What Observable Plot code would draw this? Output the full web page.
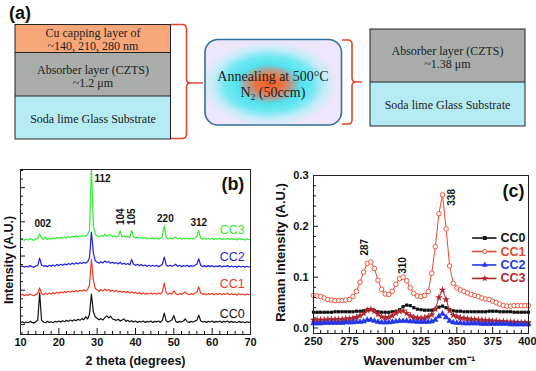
<!DOCTYPE html>
<html>
<head>
<meta charset="utf-8">
<script src="https://cdn.jsdelivr.net/npm/d3@7"></script>
<script src="https://cdn.jsdelivr.net/npm/@observablehq/plot@0.6"></script>
<style>
  html, body { margin: 0; padding: 0; background: #fff; }
  body { width: 536px; height: 371px; position: relative; overflow: hidden; font-family: "Liberation Sans", Arial, sans-serif; }
  #panelA { position: absolute; left: 0; top: 0; }
  #panelB { position: absolute; left: 0; top: 150px; }
  #panelC { position: absolute; left: 270px; top: 150px; }
  .serif { font-family: "Liberation Serif", "Times New Roman", serif; fill: #222; }
</style>
</head>
<body>
<svg id="panelA" width="536" height="150" viewBox="0 0 536 150">
  <defs>
    <radialGradient id="anneal" cx="0.47" cy="0.52" r="0.5">
      <stop offset="0" stop-color="#f2602a"/>
      <stop offset="0.2" stop-color="#ee7446"/>
      <stop offset="0.34" stop-color="#a7a59e"/>
      <stop offset="0.46" stop-color="#52e2ec"/>
      <stop offset="0.64" stop-color="#6fe8f3"/>
      <stop offset="0.82" stop-color="#c4ecf9"/>
      <stop offset="1" stop-color="#eee6fa"/>
    </radialGradient>
  </defs>
  <text x="9" y="19" font-size="18" font-weight="bold" fill="#111">(a)</text>
  <!-- left stack -->
  <rect x="15" y="24.5" width="155.5" height="28" fill="#f7a679"/>
  <rect x="15" y="52.5" width="155.5" height="43.5" fill="#a8adaa"/>
  <rect x="15" y="96" width="155.5" height="43" fill="#b5ebf2"/>
  <rect x="15" y="24.5" width="155.5" height="114.5" fill="none" stroke="#222" stroke-width="1"/>
  <line x1="15" x2="170.5" y1="52.5" y2="52.5" stroke="#222"/>
  <line x1="15" x2="170.5" y1="96" y2="96" stroke="#222"/>
  <g class="serif" font-size="12" text-anchor="middle">
    <text x="93" y="36.5">Cu capping layer of<tspan x="93" dy="13.5">~140, 210, 280 nm</tspan></text>
    <text x="93" y="73.5">Absorber layer (CZTS)<tspan x="93" dy="13.5">~1.2 μm</tspan></text>
    <text x="93" y="122.5">Soda lime Glass Substrate</text>
  </g>
  <path d="M171,24.5 H182 Q186.5,24.5 186.5,29 V79 Q186.5,83 190.5,83 H203 M190.5,83 Q186.5,83 186.5,87 V134 Q186.5,138.5 182,138.5 H171" fill="none" stroke="#e4472e" stroke-width="1.6"/>
  <!-- annealing box -->
  <rect x="205" y="39.5" width="136.5" height="85.5" rx="13" ry="13" fill="url(#anneal)" stroke="#3270a0" stroke-width="1.6"/>
  <g class="serif" font-size="14" text-anchor="middle">
    <text x="273" y="81">Annealing at 500°C<tspan x="273" dy="16">N</tspan><tspan font-size="9" dy="3">2</tspan><tspan dy="-3"> (50ccm)</tspan></text>
  </g>
  <path d="M342,40 H348 Q352,40 352,44 V78 Q352,82 356,82 H362 M356,82 Q352,82 352,86 V120 Q352,124 348,124 H342" fill="none" stroke="#e4472e" stroke-width="1.6"/>
  <!-- right stack -->
  <rect x="370" y="29" width="155" height="53" fill="#a8adaa"/>
  <rect x="370" y="82" width="155" height="44" fill="#b5ebf2"/>
  <rect x="370" y="29" width="155" height="97" fill="none" stroke="#222"/>
  <line x1="370" x2="525" y1="82" y2="82" stroke="#222"/>
  <g class="serif" font-size="12" text-anchor="middle">
    <text x="447.5" y="54.5">Absorber layer (CZTS)<tspan x="447.5" dy="13.5">~1.38 μm</tspan></text>
    <text x="447.5" y="109">Soda lime Glass Substrate</text>
  </g>
</svg>
<div id="panelB"></div>
<div id="panelC"></div>
<script>
// ---------- Panel (b): XRD ----------
const twoTheta = [
  10,10.5,11,11.5,12,12.5,13,13.5,14,14.5,
  15,15.5,16,16.5,17,17.5,18,18.5,19,19.5,
  20,20.5,21,21.5,22,22.5,23,23.5,24,24.5,
  25,25.5,26,26.5,27,27.5,28,28.5,29,29.5,
  30,30.5,31,31.5,32,32.5,33,33.5,34,34.5,
  35,35.5,36,36.5,37,37.5,38,38.5,39,39.5,
  40,40.5,41,41.5,42,42.5,43,43.5,44,44.5,
  45,45.5,46,46.5,47,47.5,48,48.5,49,49.5,
  50,50.5,51,51.5,52,52.5,53,53.5,54,54.5,
  55,55.5,56,56.5,57,57.5,58,58.5,59,59.5,
  60,60.5,61,61.5,62,62.5,63,63.5,64,64.5,
  65,65.5,66,66.5,67,67.5,68,68.5,69,69.5,70
];
const xrdCC0 = [
  1.05,1.08,1.04,1.07,1.05,1.09,1.06,1.04,1.08,1.12,
  1.92,1.12,1.07,1.05,1.09,1.06,1.08,1.05,1.09,1.07,
  1.10,1.07,1.11,1.08,1.12,1.09,1.13,1.10,1.14,1.11,
  1.15,1.12,1.17,1.14,1.22,1.16,1.30,1.89,1.38,1.22,
  1.18,1.14,1.17,1.13,1.20,1.25,1.19,1.24,1.16,1.14,
  1.12,1.15,1.10,1.13,1.16,1.09,1.12,1.08,1.11,1.07,
  1.10,1.06,1.09,1.07,1.10,1.06,1.09,1.07,1.10,1.06,
  1.09,1.07,1.10,1.06,1.12,1.33,1.11,1.07,1.10,1.13,
  1.26,1.09,1.06,1.09,1.07,1.10,1.16,1.08,1.06,1.09,
  1.07,1.10,1.12,1.27,1.11,1.07,1.09,1.06,1.09,1.07,
  1.10,1.06,1.09,1.07,1.10,1.06,1.09,1.07,1.10,1.06,
  1.09,1.06,1.08,1.05,1.09,1.06,1.08,1.05,1.08,1.06,1.07
];
const xrdCC1 = [
  1.85,1.88,1.84,1.87,1.85,1.89,1.86,1.84,1.88,1.90,
  2.07,1.90,1.87,1.91,1.88,1.92,1.89,1.93,1.90,1.94,
  1.91,1.95,1.92,1.96,1.93,1.97,1.94,1.98,1.95,1.99,
  1.96,2.00,1.97,2.01,1.98,2.02,2.15,2.90,2.30,2.05,
  2.01,1.97,2.02,1.98,2.03,1.99,2.02,1.97,2.00,1.96,
  1.99,1.95,1.98,1.94,1.97,1.93,1.96,1.92,1.95,1.91,
  1.94,1.90,1.93,1.89,1.92,1.88,1.91,1.89,1.92,1.88,
  1.91,1.88,1.92,1.89,1.95,2.21,1.93,1.88,1.91,1.89,
  1.98,1.90,1.87,1.90,1.88,1.91,1.95,1.89,1.87,1.90,
  1.88,1.91,1.94,2.10,1.92,1.88,1.90,1.87,1.90,1.88,
  1.91,1.87,1.90,1.88,1.91,1.87,1.90,1.88,1.91,1.87,
  1.90,1.87,1.89,1.86,1.90,1.87,1.89,1.86,1.89,1.87,1.88
];
const xrdCC2 = [
  2.68,2.71,2.67,2.70,2.68,2.72,2.69,2.67,2.71,2.72,
  2.94,2.73,2.70,2.72,2.69,2.73,2.70,2.74,2.71,2.75,
  2.72,2.76,2.73,2.77,2.74,2.78,2.75,2.79,2.76,2.80,
  2.77,2.81,2.78,2.82,2.79,2.83,2.95,3.70,3.10,2.86,
  2.82,2.79,2.83,2.80,2.86,2.81,2.84,2.79,2.82,2.78,
  2.81,2.77,2.82,2.76,2.79,2.75,2.78,2.74,2.90,2.76,
  2.73,2.76,2.72,2.75,2.71,2.74,2.70,2.73,2.70,2.73,
  2.70,2.73,2.69,2.72,2.76,2.97,2.74,2.70,2.73,2.70,
  2.72,2.76,2.70,2.73,2.69,2.72,2.70,2.73,2.69,2.72,
  2.70,2.73,2.76,2.92,2.73,2.69,2.72,2.69,2.72,2.69,
  2.72,2.68,2.71,2.69,2.72,2.68,2.71,2.69,2.72,2.68,
  2.71,2.68,2.70,2.67,2.71,2.68,2.70,2.67,2.70,2.68,2.69
];
const xrdCC3 = [
  3.47,3.50,3.46,3.49,3.47,3.51,3.48,3.46,3.50,3.52,
  3.65,3.51,3.49,3.56,3.48,3.52,3.49,3.53,3.50,3.54,
  3.51,3.55,3.52,3.56,3.53,3.57,3.54,3.58,3.55,3.59,
  3.56,3.60,3.57,3.61,3.58,3.62,3.75,5.60,3.90,3.63,
  3.59,3.56,3.60,3.57,3.64,3.58,3.61,3.62,3.57,3.59,
  3.55,3.58,3.74,3.56,3.59,3.55,3.58,3.54,3.75,3.56,
  3.53,3.56,3.52,3.55,3.51,3.54,3.50,3.53,3.50,3.53,
  3.50,3.53,3.49,3.52,3.58,3.88,3.55,3.50,3.53,3.50,
  3.52,3.56,3.50,3.53,3.49,3.52,3.50,3.53,3.49,3.52,
  3.50,3.53,3.58,3.75,3.53,3.49,3.52,3.49,3.52,3.49,
  3.52,3.48,3.51,3.49,3.52,3.48,3.51,3.49,3.52,3.48,
  3.51,3.48,3.50,3.47,3.51,3.48,3.50,3.47,3.50,3.48,3.49
];
const sampleNames = ["CC0", "CC1", "CC2", "CC3"];
const xrdColors = ["#111111", "#ee3a22", "#1f1fe6", "#33ee33"];
const xrdSeries = [xrdCC0, xrdCC1, xrdCC2, xrdCC3];
const xrdTickMajor = [10, 20, 30, 40, 50, 60, 70];
const xrdTickMinor = [12,14,16,18,22,24,26,28,32,34,36,38,42,44,46,48,52,54,56,58,62,64,66,68];
const xrdYTickMajor = [1, 2, 3, 4, 5];
const xrdYTickMinor = [0.75,1.25,1.5,1.75,2.25,2.5,2.75,3.25,3.5,3.75,4.25,4.5,4.75,5.25,5.5];
// peak labels (hkl) and their 2θ positions
const hklFlat = ["002", "112", "220", "312"];
const hklFlatPos = [15.8, 31.4, 47.8, 56.5];
const hklVert = ["104", "105"];
const hklVertPos = [36.1, 39.1];

// layout (not data): label heights in y units
const hklFlatY = [3.94, 5.26, 4.08, 3.98];
const hklVertY = 4.15;
const nameY = [1.30, 2.17, 2.97, 3.76];

const font = "Liberation Sans, Arial, sans-serif";
const xrdMarks = [];
xrdSeries.forEach((vals, i) => {
  xrdMarks.push(Plot.line(twoTheta.map((t, j) => ({t, v: vals[j]})), {x: "t", y: "v", stroke: xrdColors[i], strokeWidth: 1.2, clip: true}));
});
sampleNames.forEach((n, i) => {
  xrdMarks.push(Plot.text([n], {x: 68.5, y: nameY[i], text: d => d, fill: xrdColors[i], textAnchor: "end", fontSize: 12.5}));
});

const xrd = Plot.plot({
  width: 265, height: 221,
  marginLeft: 20, marginRight: 15, marginTop: 19, marginBottom: 37,
  x: {domain: [10, 70]},
  y: {domain: [0.706, 5.53]},
  style: {fontFamily: font, fontSize: "11px", background: "white", color: "#111", overflow: "visible"},
  marks: [
    ...xrdMarks,
    Plot.text(hklFlat.map((l, i) => ({l, x: hklFlatPos[i], y: hklFlatY[i]})), {x: "x", y: "y", text: "l", fontSize: 10, fontWeight: "bold"}),
    Plot.text(hklVert.map((l, i) => ({l, x: hklVertPos[i]})), {x: "x", y: hklVertY, text: "l", rotate: -90, fontSize: 10, fontWeight: "bold"}),
    Plot.text(["(b)"], {x: 65.4, y: 5.11, text: d => d, fontSize: 18, fontWeight: "bold"}),
    Plot.axisX({ticks: xrdTickMinor, tickSize: 3, dy: -3, fill: "none", label: null}),
    Plot.axisX({ticks: xrdTickMajor, tickSize: 6, dy: -6, fill: "none", label: null}),
    Plot.axisX({ticks: xrdTickMajor, tickSize: 0, tickPadding: 4, fontWeight: "bold", fontSize: 11, label: null}),
    Plot.axisY({ticks: xrdYTickMinor, tickSize: 3, dx: 3, fill: "none", label: null}),
    Plot.axisY({ticks: xrdYTickMajor, tickSize: 5, dx: 5, fill: "none", label: null}),
    Plot.text(["2 theta (degrees)"], {frameAnchor: "bottom", text: d => d, textAnchor: "middle", lineAnchor: "middle", dy: 26, fontWeight: "bold", fontSize: 12.5}),
    Plot.text(["Intensity (A.U.)"], {frameAnchor: "left", text: d => d, textAnchor: "middle", lineAnchor: "middle", rotate: -90, dx: -12, dy: 8, fontWeight: "bold", fontSize: 12.5}),
    Plot.frame({stroke: "#222"})
  ]
});
document.getElementById("panelB").appendChild(xrd);

// ---------- Panel (c): Raman ----------
const wavenumber = [
  250,252.5,255,257.5,260,262.5,265,267.5,270,272.5,
  275,277.5,280,282.5,285,287.5,290,292.5,295,297.5,
  300,302.5,305,307.5,310,312.5,315,317.5,320,322.5,
  325,327.5,330,332.5,335,337.5,340,342.5,345,347.5,
  350,352.5,355,357.5,360,362.5,365,367.5,370,372.5,
  375,377.5,380,382.5,385,387.5,390,392.5,395,397.5,400
];
const ramanCC0 = [
  .031,.031,.031,.031,.031,.031,.032,.032,.032,.032,
  .032,.032,.033,.033,.034,.036,.036,.034,.032,.031,
  .031,.031,.032,.033,.036,.042,.045,.044,.040,.037,
  .036,.035,.035,.035,.037,.041,.043,.040,.036,.034,
  .033,.033,.032,.032,.032,.032,.032,.032,.032,.033,
  .033,.033,.032,.032,.032,.032,.031,.031,.031,.031,.031
];
const ramanCC1 = [
  .064,.063,.062,.059,.056,.055,.054,.054,.054,.055,
  .056,.062,.072,.090,.110,.127,.130,.117,.094,.076,
  .067,.066,.072,.086,.097,.100,.093,.079,.068,.063,
  .062,.064,.072,.108,.160,.225,.262,.195,.122,.088,
  .079,.075,.072,.069,.066,.064,.062,.059,.057,.056,
  .053,.050,.047,.044,.043,.043,.044,.044,.044,.044,.044
];
const ramanCC2 = [
  .009,.009,.009,.010,.010,.010,.010,.010,.010,.011,
  .011,.011,.012,.012,.013,.016,.016,.014,.012,.011,
  .011,.011,.012,.013,.014,.014,.014,.013,.013,.012,
  .012,.012,.012,.013,.016,.023,.028,.021,.014,.011,
  .010,.010,.009,.009,.009,.009,.009,.008,.008,.008,
  .008,.008,.008,.008,.008,.007,.007,.007,.007,.007,.007
];
const ramanCC3 = [
  .016,.016,.016,.016,.017,.017,.017,.017,.017,.018,
  .018,.019,.021,.024,.029,.035,.037,.033,.027,.022,
  .020,.021,.024,.029,.033,.034,.029,.024,.021,.020,
  .019,.020,.022,.026,.037,.060,.075,.056,.034,.025,
  .022,.020,.019,.018,.017,.017,.016,.016,.015,.015,
  .014,.014,.013,.013,.012,.012,.012,.011,.011,.011,.011
];
const ramanSeries = [ramanCC0, ramanCC1, ramanCC2, ramanCC3];
const ramanColors = ["#111111", "#e8462e", "#2236e6", "#b0262e"];
const ramanSymbols = ["square", "circle", "triangle", "star"];
const ramanXTickMajor = [250, 275, 300, 325, 350, 375, 400];
const ramanXTickMinor = [255,260,265,270,280,285,290,295,305,310,315,320,330,335,340,345,355,360,365,370,380,385,390,395];
const ramanYTickMajor = [0, 0.1, 0.2, 0.3];
const ramanYTickMinor = [0.02,0.04,0.06,0.08,0.12,0.14,0.16,0.18,0.22,0.24,0.26,0.28];
const ramanPeaks = ["287", "310", "338"];
const ramanPeakPos = [285.8, 312.3, 346.8];

// layout (not data)
const ramanPeakY = [0.159, 0.123, 0.257];
const legendX1 = 361, legendX2 = 378, legendSym = 369.5, legendText = 380.5;
const legendTop = 0.177, legendStep = 0.0265;
const drawOrder = [1, 0, 3, 2];

const ramanMarks = [];
drawOrder.forEach(i => {
  const rows = wavenumber.map((w, j) => ({w, v: ramanSeries[i][j]}));
  ramanMarks.push(Plot.line(rows, {x: "w", y: "v", stroke: ramanColors[i], strokeWidth: 1}));
  const isOpen = ramanSymbols[i] === "circle";
  ramanMarks.push(Plot.dot(rows, {x: "w", y: "v", symbol: ramanSymbols[i], r: isOpen ? 2.3 : (ramanSymbols[i] === "square" ? 1.8 : 2.4),
    fill: isOpen ? "white" : ramanColors[i], stroke: isOpen ? ramanColors[i] : "none", strokeWidth: 0.9}));
});
sampleNames.forEach((n, i) => {
  const ly = legendTop - i * legendStep;
  const isOpen = ramanSymbols[i] === "circle";
  ramanMarks.push(Plot.ruleY([ly], {x1: legendX1, x2: legendX2, stroke: ramanColors[i], strokeWidth: 1.6}));
  ramanMarks.push(Plot.dot([ly], {x: legendSym, y: d => d, symbol: ramanSymbols[i], r: 2.2,
    fill: isOpen ? "white" : ramanColors[i], stroke: isOpen ? ramanColors[i] : "none", strokeWidth: 0.9}));
  ramanMarks.push(Plot.text([n], {x: legendText, y: ly, text: d => d, fill: ramanColors[i], textAnchor: "start", fontWeight: "bold", fontSize: 12.5}));
});

const raman = Plot.plot({
  width: 266, height: 221,
  marginLeft: 43, marginRight: 8, marginTop: 25, marginBottom: 38,
  x: {domain: [250, 400]},
  y: {domain: [-0.0108, 0.3]},
  style: {fontFamily: font, fontSize: "11px", background: "white", color: "#111", overflow: "visible"},
  marks: [
    ...ramanMarks,
    Plot.text(ramanPeaks.map((l, i) => ({l, x: ramanPeakPos[i], y: ramanPeakY[i]})), {x: "x", y: "y", text: "l", rotate: -90, fontSize: 10, fontWeight: "bold"}),
    Plot.text(["(c)"], {x: 389.6, y: 0.27, text: d => d, fontSize: 18, fontWeight: "bold"}),
    Plot.axisX({ticks: ramanXTickMinor, tickSize: 3, dy: -3, fill: "none", label: null}),
    Plot.axisX({ticks: ramanXTickMajor, tickSize: 6, dy: -6, fill: "none", label: null}),
    Plot.axisX({ticks: ramanXTickMajor.slice(0, -1), tickSize: 0, tickPadding: 4, fontWeight: "bold", fontSize: 11, label: null}),
    Plot.axisX({ticks: ramanXTickMajor.slice(-1), tickSize: 0, tickPadding: 4, textAnchor: "end", dx: 8, fontWeight: "bold", fontSize: 11, label: null}),
    Plot.axisY({ticks: ramanYTickMinor, tickSize: 3, dx: 3, fill: "none", label: null}),
    Plot.axisY({ticks: ramanYTickMajor, tickSize: 5, dx: 5, fill: "none", label: null}),
    Plot.axisY({ticks: ramanYTickMajor, tickSize: 0, tickPadding: 5, tickFormat: d3.format(".1f"), fontWeight: "bold", fontSize: 11, label: null}),
    Plot.text(["Wavenumber cm⁻¹"], {frameAnchor: "bottom", text: d => d, textAnchor: "middle", lineAnchor: "middle", dy: 27, dx: -1.5, fontWeight: "bold", fontSize: 13}),
    Plot.text(["Raman intensity (A.U.)"], {frameAnchor: "left", text: d => d, textAnchor: "middle", lineAnchor: "middle", rotate: -90, dx: -33, dy: -2, fontWeight: "bold", fontSize: 13}),
    Plot.frame({stroke: "#222"})
  ]
});
document.getElementById("panelC").appendChild(raman);
</script>
</body>
</html>
